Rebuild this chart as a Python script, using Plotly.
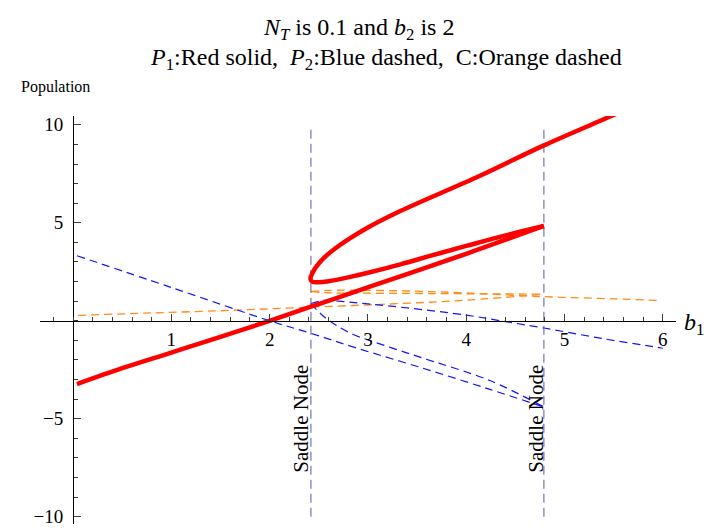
import plotly.graph_objects as go

# ---- branch data (b1 vs population) ----
# P1 lower branch (0 -> second saddle node)
p1_low_x = [0.04, 0.5, 1.0, 1.5, 2.0, 2.42, 2.65, 3.33, 4.0, 4.79]
p1_low_y = [-3.23, -2.42, -1.62, -0.82, 0.0, 0.72, 1.11, 2.27, 3.42, 4.84]
# P1 upper branch joined to middle branch through the first fold
p1_um_x = [6.0, 5.5, 4.79, 4.14, 3.33, 3.0, 2.8, 2.65, 2.55, 2.48, 2.44, 2.415,
           2.43, 2.5, 2.6, 2.82, 3.0, 3.33, 3.66, 4.0, 4.4, 4.79]
p1_um_y = [11.6, 10.5, 8.95, 7.4, 5.6, 4.76, 4.15, 3.62, 3.2, 2.8, 2.48, 2.15,
           2.0, 1.97, 2.02, 2.24, 2.45, 2.88, 3.35, 3.82, 4.36, 4.84]

# P2 branches
p2_low_x = [0.04, 1.0, 2.0, 2.42, 2.89, 3.56, 4.24, 4.79]
p2_low_y = [3.32, 1.70, 0.0, -0.64, -1.40, -2.42, -3.50, -4.40]
p2_up_x = [2.42, 2.55, 2.7, 3.0, 3.43, 4.0, 4.35, 4.79, 5.4, 5.9, 6.0]
p2_up_y = [0.88, 1.04, 1.0, 0.86, 0.64, 0.29, 0.0, -0.37, -0.92, -1.32, -1.40]
p2_mid_x = [2.42, 2.5, 2.58, 2.7, 2.85, 3.05, 3.3, 3.56, 4.24, 4.79]
p2_mid_y = [0.88, 0.45, 0.10, -0.30, -0.70, -1.06, -1.48, -1.91, -3.05, -4.40]

# C branches
c_low_x = [0.05, 0.8, 1.6, 2.42, 3.33, 4.0, 4.79]
c_low_y = [0.28, 0.40, 0.53, 0.70, 0.88, 1.05, 1.36]
c_up_x = [2.42, 2.6, 3.33, 4.0, 4.79, 5.5, 5.94]
c_up_y = [1.49, 1.55, 1.53, 1.42, 1.23, 1.12, 1.04]
c_mid_x = [2.42, 2.6, 3.33, 4.0, 4.79]
c_mid_y = [1.49, 1.43, 1.40, 1.38, 1.36]

# saddle-node locations
saddle_x = [2.42, 4.79]
saddle_span = [-10.0, 10.0]

# axes
x_range = [-0.336, 6.134]
y_range = [-10.37, 10.45]
x_ticks = [1, 2, 3, 4, 5, 6]
y_ticks = [-10, -5, 5, 10]
y_ticklabels = ["\u221210", "\u22125", "5", "10"]

SERIF = "Liberation Serif, Times New Roman, serif"

fig = go.Figure()

for xs, ys in [(c_low_x, c_low_y), (c_up_x, c_up_y), (c_mid_x, c_mid_y)]:
    fig.add_trace(go.Scatter(x=xs, y=ys, mode="lines", line_shape="spline",
                             line=dict(color="rgb(255,140,20)", width=1.3, dash="8px,5px"),
                             showlegend=False, hoverinfo="skip"))

for xs, ys in [(p2_low_x, p2_low_y), (p2_up_x, p2_up_y), (p2_mid_x, p2_mid_y)]:
    fig.add_trace(go.Scatter(x=xs, y=ys, mode="lines", line_shape="spline",
                             line=dict(color="rgb(20,20,255)", width=1.2, dash="8px,5px"),
                             showlegend=False, hoverinfo="skip"))

for sx in saddle_x:
    fig.add_trace(go.Scatter(x=[sx, sx], y=saddle_span, mode="lines",
                             line=dict(color="rgba(90,90,175,0.85)", width=1.2, dash="9px,5px"),
                             showlegend=False, hoverinfo="skip"))

for xs, ys in [(p1_low_x, p1_low_y), (p1_um_x, p1_um_y)]:
    fig.add_trace(go.Scatter(x=xs, y=ys, mode="lines", line_shape="spline",
                             line=dict(color="rgb(255,0,0)", width=4.5),
                             showlegend=False, hoverinfo="skip"))

# plot area spans pixels 40..676 horizontally, 116..527 vertically
L, R, T, B = 40, 36, 116, 4
W, H = 712, 531
x_axis_pos = (0 - y_range[0]) / (y_range[1] - y_range[0])
y_axis_pos = (0 - x_range[0]) / (x_range[1] - x_range[0])

fig.update_layout(
    width=W, height=H,
    margin=dict(l=L, r=R, t=T, b=B, pad=0),
    paper_bgcolor="white", plot_bgcolor="white",
    font=dict(family=SERIF, color="black"),
    xaxis=dict(range=x_range, anchor="free", position=x_axis_pos,
               showgrid=False, zeroline=False, showline=True, linecolor="black", linewidth=1,
               tickmode="array", tickvals=x_ticks, ticks="inside", ticklen=7, tickwidth=1,
               tickcolor="rgb(60,60,60)", tickfont=dict(size=19, family=SERIF),
               minor=dict(dtick=0.2, tick0=0, ticks="inside", ticklen=4, tickcolor="rgb(60,60,60)"),
               ticklabelstandoff=1),
    yaxis=dict(range=y_range, anchor="free", position=y_axis_pos,
               showgrid=False, zeroline=False, showline=True, linecolor="black", linewidth=1,
               tickmode="array", tickvals=y_ticks, ticktext=y_ticklabels,
               ticks="inside", ticklen=7, tickwidth=1, tickcolor="rgb(60,60,60)",
               tickfont=dict(size=19, family=SERIF),
               minor=dict(dtick=1, tick0=0, ticks="inside", ticklen=4, tickcolor="rgb(60,60,60)"),
               ticklabelstandoff=6),
)


def px_to_paper(px, py):
    return (px - L) / (W - L - R), (H - B - py) / (H - T - B)


annotations = []
tx, ty = px_to_paper(358, 28)
annotations.append(dict(x=tx, y=ty, xref="paper", yref="paper", xanchor="center", yanchor="middle",
                        text="<i>N</i><sub><i>T</i></sub> is 0.1 and <i>b</i><sub>2</sub> is 2",
                        showarrow=False, font=dict(size=24, family=SERIF)))
tx, ty = px_to_paper(386, 59)
annotations.append(dict(x=tx, y=ty, xref="paper", yref="paper", xanchor="center", yanchor="middle",
                        text="<i>P</i><sub>1</sub>:Red solid,\u00a0 <i>P</i><sub>2</sub>:Blue dashed,\u00a0 C:Orange dashed",
                        showarrow=False, font=dict(size=24, family=SERIF)))
tx, ty = px_to_paper(55, 87)
annotations.append(dict(x=tx, y=ty, xref="paper", yref="paper", xanchor="center", yanchor="middle",
                        text="Population", showarrow=False, font=dict(size=16, family=SERIF)))
tx, ty = px_to_paper(694, 326)
annotations.append(dict(x=tx, y=ty, xref="paper", yref="paper", xanchor="center", yanchor="middle",
                        text="<i>b</i><sub>1</sub>", showarrow=False, font=dict(size=24, family=SERIF)))
for sx, dx in zip(saddle_x, [-10, -8]):
    annotations.append(dict(x=sx, y=-5.0, xref="x", yref="y", xshift=dx, textangle=-90,
                            xanchor="center", yanchor="middle", text="Saddle Node",
                            showarrow=False, font=dict(size=21, family=SERIF)))
fig.update_layout(annotations=annotations)

fig.write_html("out.html")
